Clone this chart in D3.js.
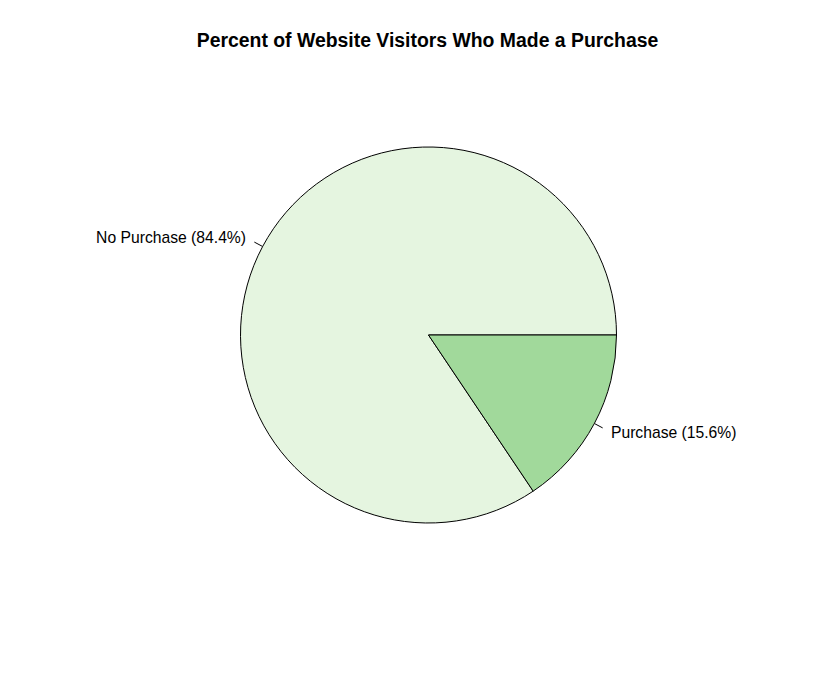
<!DOCTYPE html>
<html>
<head>
<meta charset="utf-8">
<script src="https://cdn.jsdelivr.net/npm/d3@7"></script>
<style>
html,body{margin:0;padding:0;background:#fff;}
svg{display:block;}
</style>
</head>
<body>
<svg id="chart" width="819" height="690"></svg>
<script>
const categories = ["No Purchase", "Purchase"];
const values = [84.4, 15.6];
const labels = ["No Purchase (84.4%)", "Purchase (15.6%)"];
const colors = ["#E5F5E0", "#A1D99B"];
const title = "Percent of Website Visitors Who Made a Purchase";

const W = 819, H = 690;
const cx = 428.5, cy = 335, R = 188;
const svg = d3.select("#chart");

svg.append("text")
  .attr("x", 427.5).attr("y", 47)
  .attr("text-anchor", "middle")
  .attr("font-family", "Liberation Sans, Arial, sans-serif")
  .attr("font-weight", "bold")
  .attr("font-size", 19.4)
  .text(title);

const total = d3.sum(values);
// R pie: counterclockwise from 3 o'clock
const angle = d3.scaleLinear().domain([0, total]).range([0, 2 * Math.PI]);
const cum = [0];
values.forEach((v, i) => cum.push(cum[i] + v));

const arc = d3.arc().innerRadius(0).outerRadius(R);
const g = svg.append("g").attr("transform", `translate(${cx},${cy})`);

values.forEach((v, i) => {
  const t0 = angle(cum[i]), t1 = angle(cum[i + 1]);
  g.append("path")
    .attr("d", arc({startAngle: Math.PI/2 - t1, endAngle: Math.PI/2 - t0}))
    .attr("fill", colors[i])
    .attr("stroke", "#000")
    .attr("stroke-width", 1);
  const mid = (t0 + t1) / 2;
  const ux = Math.cos(mid), uy = -Math.sin(mid);
  g.append("line")
    .attr("x1", ux * R).attr("y1", uy * R)
    .attr("x2", ux * R * 1.05).attr("y2", uy * R * 1.05)
    .attr("stroke", "#000").attr("stroke-width", 1);
  g.append("text")
    .attr("x", ux * R * 1.1).attr("y", uy * R * 1.1)
    .attr("text-anchor", ux < 0 ? "end" : "start")
    .attr("dominant-baseline", "central")
    .attr("font-family", "Liberation Sans, Arial, sans-serif")
    .attr("font-size", 15.7)
    .attr("fill", "#000")
    .text(labels[i]);
});
</script>
</body>
</html>
